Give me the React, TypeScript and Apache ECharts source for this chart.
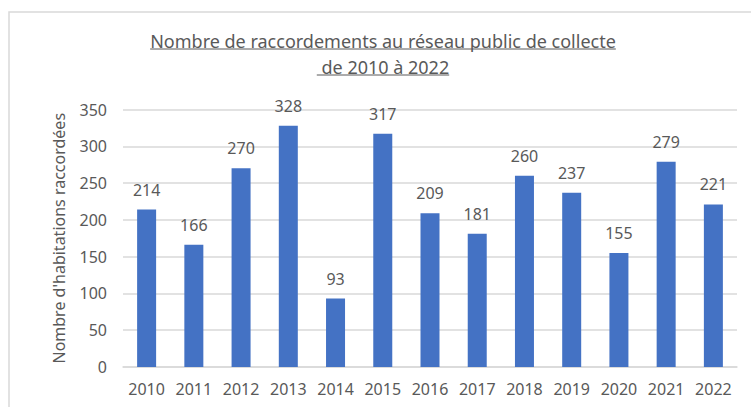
import React, { useEffect, useRef } from "react";
import * as echarts from "echarts";

const years = ["2010", "2011", "2012", "2013", "2014", "2015", "2016", "2017", "2018", "2019", "2020", "2021", "2022"];
const connections = [214, 166, 270, 328, 93, 317, 209, 181, 260, 237, 155, 279, 221];
const titleLines = ["Nombre de raccordements au réseau public de collecte", " de 2010 à 2022"];
const yAxisName = "Nombre d'habitations raccordées";

const FONT = "'Noto Sans', sans-serif";
const TEXT = "#595959";
const GRID = "#D9D9D9";

function measure(text: string, size: number): number {
  const c = document.createElement("canvas");
  const ctx = c.getContext("2d");
  if (!ctx) return text.length * size * 0.5;
  ctx.font = `${size}px 'Noto Sans'`;
  return ctx.measureText(text).width;
}

export default function App() {
  const ref = useRef<HTMLDivElement>(null);
  useEffect(() => {
    document.body.style.margin = "0";
    if (!ref.current) return;
    const chart = echarts.init(ref.current, null, { renderer: "svg" });
    const cx = 383;
    const titleSize = 18;
    const ys = [41, 67];
    const graphics: any[] = [
      {
        type: "rect",
        shape: { x: 9, y: 12, width: 800, height: 500 },
        style: { fill: "none", stroke: GRID, lineWidth: 1.5 },
        silent: true,
      },
    ];
    titleLines.forEach((t, i) => {
      const w = measure(t, titleSize);
      graphics.push({
        type: "text",
        x: cx,
        y: ys[i],
        style: {
          text: t,
          fill: TEXT,
          font: `${titleSize}px ${FONT}`,
          align: "center",
          verticalAlign: "middle",
        },
      });
      graphics.push({
        type: "line",
        shape: { x1: cx - w / 2, y1: ys[i] + 8, x2: cx + w / 2, y2: ys[i] + 8 },
        style: { stroke: TEXT, lineWidth: 1 },
      });
    });
    chart.setOption({
      animation: false,
      textStyle: { fontFamily: FONT, color: TEXT },
      graphic: graphics,
      grid: { left: 123, right: 14, top: 109.5, bottom: 40, containLabel: false },
      xAxis: {
        type: "category",
        data: years,
        axisLine: { show: true, lineStyle: { color: GRID, width: 1.5 } },
        axisTick: { show: false },
        axisLabel: { color: TEXT, fontSize: 16, fontFamily: FONT, margin: 14, interval: 0 },
      },
      yAxis: {
        type: "value",
        min: 0,
        max: 350,
        interval: 50,
        name: yAxisName,
        nameLocation: "middle",
        nameRotate: 90,
        nameGap: 56,
        nameTextStyle: { color: TEXT, fontSize: 16, fontFamily: FONT },
        axisLine: { show: false },
        axisTick: { show: false },
        axisLabel: { color: TEXT, fontSize: 16, fontFamily: FONT, margin: 16 },
        splitLine: { lineStyle: { color: GRID, width: 1.5 } },
      },
      series: [
        {
          type: "bar",
          data: connections,
          barWidth: 19,
          itemStyle: { color: "#4472C4" },
          label: {
            show: true,
            position: "top",
            distance: 12,
            color: TEXT,
            fontSize: 16,
            fontFamily: FONT,
          },
        },
      ],
    });
    return () => chart.dispose();
  }, []);
  return <div ref={ref} style={{ width: 751, height: 407, overflow: "hidden" }} />;
}
